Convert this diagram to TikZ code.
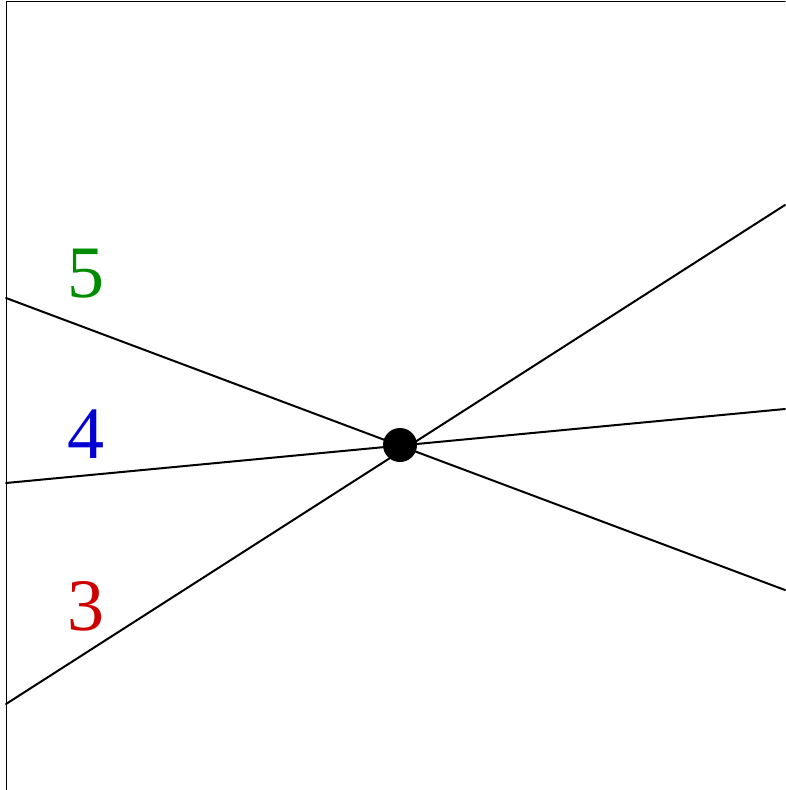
\documentclass[tikz,border=0pt]{standalone}
\usepackage{fontspec}
\setmainfont{Liberation Serif}
\definecolor{cfive}{RGB}{0,140,0}
\definecolor{cfour}{RGB}{0,0,210}
\definecolor{cthree}{RGB}{205,0,0}
\begin{document}
\begin{tikzpicture}[x=1pt,y=-1pt,line cap=round]
\useasboundingbox (0,0) rectangle (785,790);
% ---------- frame (top and left only) ----------
\draw[line width=1pt] (6,790) -- (6,1.5) -- (785,1.5);
% ---------- line ends ----------
\coordinate (l5) at (6,298);  \coordinate (r5) at (785,590);
\coordinate (l4) at (6,483);  \coordinate (r4) at (785,409);
\coordinate (l3) at (6,704);  \coordinate (r3) at (785,205);
% ---------- lines ----------
\foreach \k in {3,4,5}{
  \draw[line width=2pt] (l\k) -- (r\k);}
% ---------- crossing point ----------
\node[circle,fill=black,inner sep=0pt,minimum size=34pt] (hub) at (400,445) {};
% ---------- labels ----------
\node[cfive,font=\fontsize{74}{74}\selectfont] (lab5) at (86,274) {5};
\node[cfour,font=\fontsize{74}{74}\selectfont] (lab4) at (86,434) {4};
\node[cthree,font=\fontsize{74}{74}\selectfont] (lab3) at (86,606) {3};
\end{tikzpicture}
\end{document}
